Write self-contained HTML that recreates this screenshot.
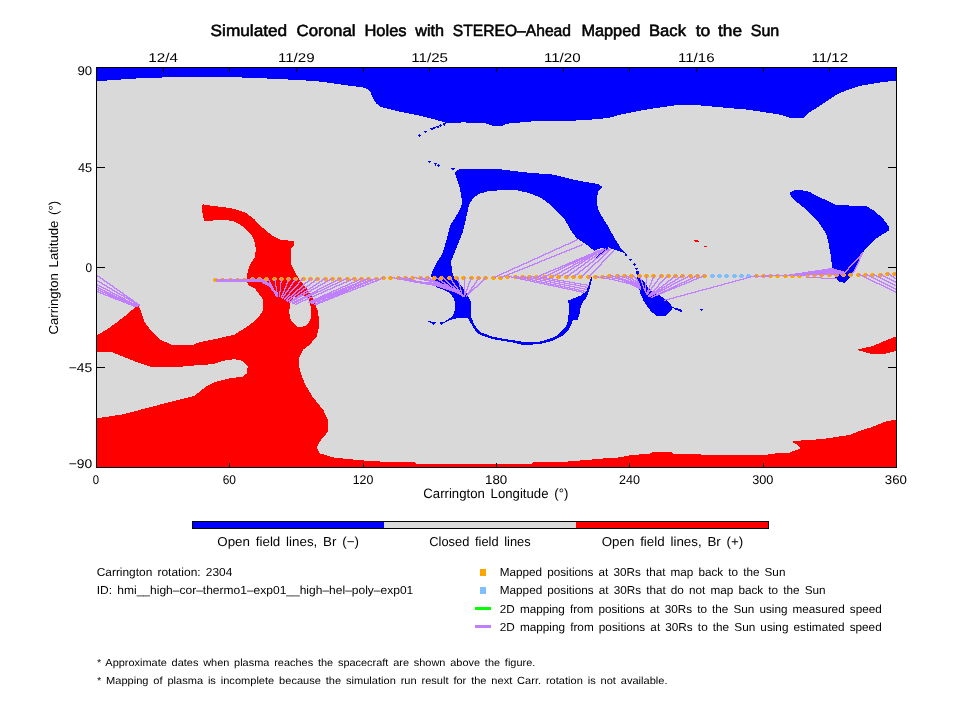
<!DOCTYPE html>
<html><head><meta charset="utf-8"><title>Simulated Coronal Holes</title>
<style>html,body{margin:0;padding:0;background:#fff}svg text{text-rendering:geometricPrecision}body{width:960px;height:720px;overflow:hidden}svg{display:block;will-change:transform}text{font-family:"Liberation Sans",sans-serif;fill:#000;word-spacing:0.16em}</style>
</head><body>
<svg width="960" height="720" viewBox="0 0 960 720">
<rect x="0" y="0" width="960" height="720" fill="#fff"/>
<defs><clipPath id="c"><rect x="97" y="68" width="799" height="399"/></clipPath></defs>
<g shape-rendering="crispEdges">
<rect x="96" y="67" width="801" height="401" fill="#d9d9d9"/>
<g clip-path="url(#c)">
<polygon fill="#0000ff" points="96.0,81.3 100.0,81.0 113.0,80.0 128.0,79.0 144.0,78.0 170.0,77.3 196.0,76.8 221.0,76.8 245.0,77.6 267.0,78.5 296.0,79.9 316.8,81.2 337.7,84.0 364.8,87.8 370.0,91.0 373.0,98.3 376.2,103.5 381.4,107.2 396.0,110.8 416.8,115.0 433.5,119.0 446.0,122.8 448.0,123.2 462.7,122.4 484.0,123.2 488.0,124.0 493.5,126.2 502.5,126.2 505.0,124.4 510.0,123.2 520.0,122.5 532.5,121.4 560.0,121.2 585.6,120.1 608.5,118.0 621.0,114.5 641.8,110.3 662.7,107.0 677.3,105.1 696.0,105.1 712.7,106.6 748.0,109.7 779.3,114.5 789.8,117.6 804.3,117.6 809.5,112.4 821.0,105.1 837.7,94.0 850.2,88.9 862.7,85.3 883.5,82.0 896.0,80.5 896.0,67.0 96.0,67.0"/>
<polygon fill="#0000ff" points="455.0,173.0 457.0,170.5 461.0,168.9 501.6,169.5 523.0,172.2 554.3,174.7 575.2,180.1 598.0,184.0 602.3,186.8 598.0,192.0 596.6,200.3 598.0,208.7 600.5,214.2 607.3,225.0 614.0,237.2 620.8,248.0 626.6,254.4 621.4,251.8 613.0,249.2 607.9,247.1 600.6,248.1 594.3,250.8 585.0,243.5 576.6,238.2 572.0,232.0 569.4,227.7 563.9,218.2 558.5,212.8 550.2,204.5 541.8,198.3 529.3,193.0 516.8,190.3 498.9,190.3 487.7,191.4 479.3,193.7 473.0,198.3 469.0,204.5 466.8,215.0 465.9,219.6 462.4,233.1 456.9,246.7 451.5,260.2 451.0,262.0 452.7,274.5 459.3,283.7 464.3,289.5 467.7,295.3 470.5,301.2 471.0,310.0 471.3,317.1 474.5,325.2 480.0,332.0 491.7,336.4 501.9,338.5 513.5,340.3 522.3,341.8 538.3,341.8 545.6,340.0 555.8,336.4 561.7,331.2 566.0,326.9 568.2,319.6 569.0,307.9 568.2,300.6 573.3,298.4 580.6,295.5 586.5,291.1 588.6,284.6 590.5,278.9 592.3,274.7 592.3,277.8 591.6,280.2 589.4,289.0 587.2,296.2 582.1,303.5 580.6,307.9 579.2,315.2 577.7,319.6 572.6,320.3 571.1,325.4 567.5,331.2 561.7,336.4 552.9,340.7 539.1,344.4 522.3,344.7 513.5,342.6 501.9,340.7 491.7,338.8 480.0,334.9 475.5,331.0 470.5,322.5 467.8,318.4 456.9,318.4 450.2,319.8 444.7,322.5 440.7,324.4 447.5,319.8 452.9,315.7 455.2,308.7 454.3,298.7 449.3,292.8 442.7,289.5 436.0,287.0 432.7,281.2 431.0,275.3 432.7,270.3 436.8,262.0 442.0,254.8 446.1,241.3 450.2,225.0 458.3,212.8 462.4,203.3 459.6,187.1"/>
<polygon fill="#0000ff" points="636.7,273.7 641.4,278.4 644.5,282.0 647.7,287.2 650.8,290.4 656.0,293.0 662.2,297.1 668.5,301.8 672.7,307.0 678.9,309.6 681.5,311.2 672.7,308.1 669.5,312.2 665.4,315.9 657.0,315.9 651.8,312.2 647.7,307.0 643.5,300.8 640.4,293.5 638.8,287.2 637.2,279.0"/>
<polygon fill="#0000ff" points="606.0,246.8 608.6,248.0 597.2,259.6 595.0,258.4"/>
<polygon fill="#0000ff" points="790.2,192.5 793.5,190.5 801.0,190.0 809.3,191.7 816.0,195.8 826.0,200.0 836.8,205.3 866.0,205.8 874.3,210.8 882.7,218.3 888.5,225.8 888.5,230.8 882.7,234.2 874.3,240.0 867.7,246.7 862.7,252.5 857.7,262.5 852.7,272.5 849.3,278.3 844.3,282.9 839.3,281.7 835.2,277.5 832.2,268.3 831.0,256.7 828.5,243.3 826.0,233.3 819.3,223.3 812.7,215.8 802.7,206.7 794.3,200.0 790.2,195.0"/>
<polygon fill="#ff0000" points="203.9,203.8 204.8,205.0 213.3,205.9 225.0,207.4 233.8,208.9 245.4,212.5 254.2,219.1 260.0,225.6 271.7,235.1 280.4,239.5 293.7,241.2 293.8,246.0 291.4,248.2 291.4,265.0 295.0,272.3 299.4,279.6 306.7,288.3 312.7,298.3 318.1,311.9 319.5,325.4 316.7,336.3 310.0,344.4 303.2,349.5 298.6,359.0 299.7,369.8 304.6,383.3 312.7,396.9 323.5,410.4 328.4,421.3 327.6,432.1 320.8,440.2 316.7,447.0 319.5,453.2 331.6,457.0 336.0,457.8 361.0,460.3 381.3,461.6 414.0,461.9 416.6,464.0 531.3,464.0 533.5,461.9 567.3,461.6 586.0,460.0 611.0,457.8 616.0,457.8 633.5,454.8 649.5,454.0 652.5,451.9 671.4,451.9 673.5,453.7 700.6,454.0 702.0,454.8 767.7,454.8 769.1,453.7 788.1,453.1 795.4,450.2 799.7,449.0 799.7,446.7 796.8,444.6 793.0,442.3 793.0,440.8 808.5,440.2 826.0,438.5 849.3,435.0 858.1,431.5 872.7,426.8 887.2,421.0 896.0,419.8 896.0,467.0 96.0,467.0 96.0,418.5 122.7,414.4 146.0,408.3 171.0,401.7 194.3,395.8 206.0,386.7 216.0,381.7 229.3,378.3 242.7,376.7 246.8,373.3 247.7,366.7 242.7,360.8 234.3,359.2 222.7,360.8 212.7,364.2 189.3,365.8 174.3,367.5 151.0,367.0 137.7,362.5 121.0,355.8 112.7,352.5 96.0,352.2 96.0,335.8 106.0,330.0 117.7,321.7 129.3,312.5 136.8,305.6 138.5,305.3 141.0,311.7 144.3,321.7 151.0,330.8 159.3,339.2 171.0,344.5 193.5,344.6 199.3,342.2 212.7,339.7 234.3,334.7 246.0,327.5 256.0,320.0 259.3,316.0 263.1,310.2 262.9,299.3 259.3,294.3 254.3,287.9 249.3,286.0 246.8,281.8 246.9,276.7 248.3,269.4 251.2,262.1 254.9,257.7 255.9,249.0 254.2,240.2 251.2,234.4 245.4,228.5 239.6,224.2 233.8,221.2 225.0,219.8 213.3,220.5 203.9,221.0 203.3,217.0 202.4,212.0 202.0,206.0 202.8,204.6"/>
<polygon fill="#d9d9d9" points="295.0,297.0 300.0,295.5 305.0,296.0 308.0,298.5 309.8,302.0 310.8,308.0 310.8,318.0 309.0,322.5 306.0,325.5 302.0,327.0 297.5,326.5 293.0,323.0 290.0,318.0 289.3,312.0 289.8,305.0 290.5,302.0 292.0,299.3"/>
<polygon fill="#ff0000" points="856.6,349.8 872.7,346.0 884.3,341.1 896.0,336.4 896.0,351.0 884.3,353.9 871.2,353.9"/>
<rect x="418" y="135" width="3" height="1" fill="#0000ff"/>
<rect x="419" y="134" width="1" height="3" fill="#0000ff"/>
<rect x="424" y="131" width="3" height="1" fill="#0000ff"/>
<rect x="425" y="132" width="1" height="1" fill="#0000ff"/>
<rect x="430" y="128" width="4" height="1" fill="#0000ff"/>
<rect x="431" y="129" width="2" height="1" fill="#0000ff"/>
<rect x="433" y="127" width="3" height="1" fill="#0000ff"/>
<rect x="434" y="128" width="1" height="1" fill="#0000ff"/>
<rect x="436" y="126" width="3" height="1" fill="#0000ff"/>
<rect x="437" y="127" width="2" height="1" fill="#0000ff"/>
<rect x="439" y="125" width="3" height="1" fill="#0000ff"/>
<rect x="440" y="124" width="1" height="3" fill="#0000ff"/>
<rect x="443" y="123" width="3" height="1" fill="#0000ff"/>
<rect x="443" y="124" width="2" height="1" fill="#0000ff"/>
<rect x="444" y="125" width="1" height="1" fill="#0000ff"/>
<rect x="428" y="161" width="3" height="1" fill="#0000ff"/>
<rect x="429" y="162" width="1" height="1" fill="#0000ff"/>
<rect x="434" y="163" width="3" height="1" fill="#0000ff"/>
<rect x="435" y="164" width="1" height="2" fill="#0000ff"/>
<rect x="437" y="165" width="3" height="1" fill="#0000ff"/>
<rect x="438" y="164" width="1" height="3" fill="#0000ff"/>
<rect x="451" y="168" width="4" height="1" fill="#0000ff"/>
<rect x="452" y="169" width="2" height="1" fill="#0000ff"/>
<rect x="428" y="321" width="3" height="1" fill="#0000ff"/>
<rect x="430" y="322" width="1" height="1" fill="#0000ff"/>
<rect x="431" y="322" width="5" height="1" fill="#0000ff"/>
<rect x="432" y="323" width="3" height="1" fill="#0000ff"/>
<rect x="433" y="324" width="1" height="1" fill="#0000ff"/>
<rect x="440" y="322" width="5" height="1" fill="#0000ff"/>
<rect x="440" y="323" width="3" height="1" fill="#0000ff"/>
<rect x="441" y="324" width="1" height="1" fill="#0000ff"/>
<rect x="629" y="259" width="3" height="1" fill="#0000ff"/>
<rect x="630" y="260" width="1" height="1" fill="#0000ff"/>
<rect x="634" y="263" width="1" height="1" fill="#0000ff"/>
<rect x="633" y="264" width="3" height="1" fill="#0000ff"/>
<rect x="634" y="265" width="1" height="1" fill="#0000ff"/>
<rect x="635" y="268" width="3" height="1" fill="#0000ff"/>
<rect x="636" y="269" width="1" height="1" fill="#0000ff"/>
<rect x="636" y="271" width="3" height="3" fill="#0000ff"/>
<rect x="625" y="254" width="2" height="2" fill="#0000ff"/>
<rect x="700" y="309" width="3" height="1" fill="#0000ff"/>
<rect x="701" y="310" width="1" height="1" fill="#0000ff"/>
<rect x="675" y="308" width="3" height="2" fill="#0000ff"/>
<rect x="678" y="309" width="3" height="2" fill="#0000ff"/>
<rect x="680" y="310" width="2" height="2" fill="#0000ff"/>
<rect x="694" y="240" width="4" height="1" fill="#ff0000"/>
<rect x="695" y="241" width="4" height="1" fill="#ff0000"/>
<rect x="704" y="246" width="3" height="1" fill="#ff0000"/>
</g>
<g clip-path="url(#c)">
<path fill="#ffa500" d="M214 278h3v1h1v2h-1v1h-3v-1h-1v-2h1z"/>
<path fill="#ffa500" d="M221 278h3v1h1v2h-1v1h-3v-1h-1v-2h1z"/>
<path fill="#ffa500" d="M229 278h3v1h1v2h-1v1h-3v-1h-1v-2h1z"/>
<path fill="#ffa500" d="M236 278h3v1h1v2h-1v1h-3v-1h-1v-2h1z"/>
<path fill="#ffa500" d="M243 278h3v1h1v2h-1v1h-3v-1h-1v-2h1z"/>
<path fill="#ffa500" d="M251 277h3v1h1v2h-1v1h-3v-1h-1v-2h1z"/>
<path fill="#ffa500" d="M258 277h3v1h1v2h-1v1h-3v-1h-1v-2h1z"/>
<path fill="#ffa500" d="M265 277h3v1h1v2h-1v1h-3v-1h-1v-2h1z"/>
<path fill="#ffa500" d="M273 277h3v1h1v2h-1v1h-3v-1h-1v-2h1z"/>
<path fill="#ffa500" d="M280 277h3v1h1v2h-1v1h-3v-1h-1v-2h1z"/>
<path fill="#ffa500" d="M287 277h3v1h1v2h-1v1h-3v-1h-1v-2h1z"/>
<path fill="#ffa500" d="M294 277h3v1h1v2h-1v1h-3v-1h-1v-2h1z"/>
<path fill="#ffa500" d="M302 277h3v1h1v2h-1v1h-3v-1h-1v-2h1z"/>
<path fill="#ffa500" d="M309 277h3v1h1v2h-1v1h-3v-1h-1v-2h1z"/>
<path fill="#ffa500" d="M316 277h3v1h1v2h-1v1h-3v-1h-1v-2h1z"/>
<path fill="#ffa500" d="M324 277h3v1h1v2h-1v1h-3v-1h-1v-2h1z"/>
<path fill="#ffa500" d="M331 277h3v1h1v2h-1v1h-3v-1h-1v-2h1z"/>
<path fill="#ffa500" d="M338 277h3v1h1v2h-1v1h-3v-1h-1v-2h1z"/>
<path fill="#ffa500" d="M346 277h3v1h1v2h-1v1h-3v-1h-1v-2h1z"/>
<path fill="#ffa500" d="M353 277h3v1h1v2h-1v1h-3v-1h-1v-2h1z"/>
<path fill="#ffa500" d="M360 277h3v1h1v2h-1v1h-3v-1h-1v-2h1z"/>
<path fill="#ffa500" d="M367 277h3v1h1v2h-1v1h-3v-1h-1v-2h1z"/>
<path fill="#ffa500" d="M375 277h3v1h1v2h-1v1h-3v-1h-1v-2h1z"/>
<path fill="#ffa500" d="M382 276h3v1h1v2h-1v1h-3v-1h-1v-2h1z"/>
<path fill="#ffa500" d="M389 276h3v1h1v2h-1v1h-3v-1h-1v-2h1z"/>
<path fill="#ffa500" d="M397 276h3v1h1v2h-1v1h-3v-1h-1v-2h1z"/>
<path fill="#ffa500" d="M404 276h3v1h1v2h-1v1h-3v-1h-1v-2h1z"/>
<path fill="#ffa500" d="M411 276h3v1h1v2h-1v1h-3v-1h-1v-2h1z"/>
<path fill="#ffa500" d="M419 276h3v1h1v2h-1v1h-3v-1h-1v-2h1z"/>
<path fill="#ffa500" d="M426 276h3v1h1v2h-1v1h-3v-1h-1v-2h1z"/>
<path fill="#ffa500" d="M433 276h3v1h1v2h-1v1h-3v-1h-1v-2h1z"/>
<path fill="#ffa500" d="M440 276h3v1h1v2h-1v1h-3v-1h-1v-2h1z"/>
<path fill="#ffa500" d="M448 276h3v1h1v2h-1v1h-3v-1h-1v-2h1z"/>
<path fill="#ffa500" d="M455 276h3v1h1v2h-1v1h-3v-1h-1v-2h1z"/>
<path fill="#ffa500" d="M462 276h3v1h1v2h-1v1h-3v-1h-1v-2h1z"/>
<path fill="#ffa500" d="M470 276h3v1h1v2h-1v1h-3v-1h-1v-2h1z"/>
<path fill="#ffa500" d="M477 276h3v1h1v2h-1v1h-3v-1h-1v-2h1z"/>
<path fill="#ffa500" d="M484 276h3v1h1v2h-1v1h-3v-1h-1v-2h1z"/>
<path fill="#ffa500" d="M492 276h3v1h1v2h-1v1h-3v-1h-1v-2h1z"/>
<path fill="#ffa500" d="M499 276h3v1h1v2h-1v1h-3v-1h-1v-2h1z"/>
<path fill="#ffa500" d="M506 275h3v1h1v2h-1v1h-3v-1h-1v-2h1z"/>
<path fill="#ffa500" d="M514 275h3v1h1v2h-1v1h-3v-1h-1v-2h1z"/>
<path fill="#ffa500" d="M521 275h3v1h1v2h-1v1h-3v-1h-1v-2h1z"/>
<path fill="#ffa500" d="M528 275h3v1h1v2h-1v1h-3v-1h-1v-2h1z"/>
<path fill="#ffa500" d="M535 275h3v1h1v2h-1v1h-3v-1h-1v-2h1z"/>
<path fill="#ffa500" d="M543 275h3v1h1v2h-1v1h-3v-1h-1v-2h1z"/>
<path fill="#ffa500" d="M550 275h3v1h1v2h-1v1h-3v-1h-1v-2h1z"/>
<path fill="#ffa500" d="M557 275h3v1h1v2h-1v1h-3v-1h-1v-2h1z"/>
<path fill="#ffa500" d="M565 275h3v1h1v2h-1v1h-3v-1h-1v-2h1z"/>
<path fill="#ffa500" d="M572 275h3v1h1v2h-1v1h-3v-1h-1v-2h1z"/>
<path fill="#ffa500" d="M579 275h3v1h1v2h-1v1h-3v-1h-1v-2h1z"/>
<path fill="#ffa500" d="M587 275h3v1h1v2h-1v1h-3v-1h-1v-2h1z"/>
<path fill="#ffa500" d="M594 275h3v1h1v2h-1v1h-3v-1h-1v-2h1z"/>
<path fill="#ffa500" d="M601 275h3v1h1v2h-1v1h-3v-1h-1v-2h1z"/>
<path fill="#ffa500" d="M608 274h3v1h1v2h-1v1h-3v-1h-1v-2h1z"/>
<path fill="#ffa500" d="M616 274h3v1h1v2h-1v1h-3v-1h-1v-2h1z"/>
<path fill="#ffa500" d="M623 274h3v1h1v2h-1v1h-3v-1h-1v-2h1z"/>
<path fill="#ffa500" d="M630 274h3v1h1v2h-1v1h-3v-1h-1v-2h1z"/>
<path fill="#ffa500" d="M638 274h3v1h1v2h-1v1h-3v-1h-1v-2h1z"/>
<path fill="#ffa500" d="M645 274h3v1h1v2h-1v1h-3v-1h-1v-2h1z"/>
<path fill="#ffa500" d="M652 274h3v1h1v2h-1v1h-3v-1h-1v-2h1z"/>
<path fill="#ffa500" d="M660 274h3v1h1v2h-1v1h-3v-1h-1v-2h1z"/>
<path fill="#ffa500" d="M667 274h3v1h1v2h-1v1h-3v-1h-1v-2h1z"/>
<path fill="#ffa500" d="M674 274h3v1h1v2h-1v1h-3v-1h-1v-2h1z"/>
<path fill="#ffa500" d="M681 274h3v1h1v2h-1v1h-3v-1h-1v-2h1z"/>
<path fill="#ffa500" d="M689 274h3v1h1v2h-1v1h-3v-1h-1v-2h1z"/>
<path fill="#ffa500" d="M696 274h3v1h1v2h-1v1h-3v-1h-1v-2h1z"/>
<path fill="#ffa500" d="M703 274h3v1h1v2h-1v1h-3v-1h-1v-2h1z"/>
<path fill="#7fbfff" d="M711 274h3v1h1v2h-1v1h-3v-1h-1v-2h1z"/>
<path fill="#7fbfff" d="M718 274h3v1h1v2h-1v1h-3v-1h-1v-2h1z"/>
<path fill="#7fbfff" d="M725 274h3v1h1v2h-1v1h-3v-1h-1v-2h1z"/>
<path fill="#7fbfff" d="M733 274h3v1h1v2h-1v1h-3v-1h-1v-2h1z"/>
<path fill="#7fbfff" d="M740 274h3v1h1v2h-1v1h-3v-1h-1v-2h1z"/>
<path fill="#7fbfff" d="M747 274h3v1h1v2h-1v1h-3v-1h-1v-2h1z"/>
<path fill="#ffa500" d="M755 274h3v1h1v2h-1v1h-3v-1h-1v-2h1z"/>
<path fill="#ffa500" d="M762 274h3v1h1v2h-1v1h-3v-1h-1v-2h1z"/>
<path fill="#ffa500" d="M769 274h3v1h1v2h-1v1h-3v-1h-1v-2h1z"/>
<path fill="#ffa500" d="M776 274h3v1h1v2h-1v1h-3v-1h-1v-2h1z"/>
<path fill="#ffa500" d="M784 274h3v1h1v2h-1v1h-3v-1h-1v-2h1z"/>
<path fill="#ffa500" d="M791 274h3v1h1v2h-1v1h-3v-1h-1v-2h1z"/>
<path fill="#ffa500" d="M798 274h3v1h1v2h-1v1h-3v-1h-1v-2h1z"/>
<path fill="#ffa500" d="M806 273h3v1h1v2h-1v1h-3v-1h-1v-2h1z"/>
<path fill="#ffa500" d="M813 273h3v1h1v2h-1v1h-3v-1h-1v-2h1z"/>
<path fill="#ffa500" d="M820 273h3v1h1v2h-1v1h-3v-1h-1v-2h1z"/>
<path fill="#ffa500" d="M828 273h3v1h1v2h-1v1h-3v-1h-1v-2h1z"/>
<path fill="#ffa500" d="M835 273h3v1h1v2h-1v1h-3v-1h-1v-2h1z"/>
<path fill="#ffa500" d="M842 273h3v1h1v2h-1v1h-3v-1h-1v-2h1z"/>
<path fill="#ffa500" d="M849 273h3v1h1v2h-1v1h-3v-1h-1v-2h1z"/>
<path fill="#ffa500" d="M857 273h3v1h1v2h-1v1h-3v-1h-1v-2h1z"/>
<path fill="#ffa500" d="M864 273h3v1h1v2h-1v1h-3v-1h-1v-2h1z"/>
<path fill="#ffa500" d="M871 273h3v1h1v2h-1v1h-3v-1h-1v-2h1z"/>
<path fill="#ffa500" d="M879 273h3v1h1v2h-1v1h-3v-1h-1v-2h1z"/>
<path fill="#ffa500" d="M886 272h3v1h1v2h-1v1h-3v-1h-1v-2h1z"/>
<path fill="#ffa500" d="M893 272h3v1h1v2h-1v1h-3v-1h-1v-2h1z"/>
</g>
<path fill="#bf7fff" d="M576 239h2v1h-2zM574 240h3v1h-3zM572 241h3v1h-3zM570 242h3v1h-3zM568 243h3v1h-3zM565 244h4v1h-4zM581 244h2v1h-2zM563 245h3v1h-3zM579 245h3v1h-3zM561 246h3v1h-3zM576 246h4v1h-4zM559 247h3v1h-3zM574 247h3v1h-3zM556 248h4v1h-4zM571 248h4v1h-4zM603 248h1v1h-1zM605 248h1v1h-1zM608 248h1v1h-1zM610 248h1v1h-1zM554 249h3v1h-3zM569 249h3v1h-3zM601 249h5v1h-5zM607 249h4v1h-4zM552 250h3v1h-3zM566 250h4v1h-4zM597 250h7v1h-7zM605 250h5v1h-5zM613 250h1v1h-1zM550 251h3v1h-3zM564 251h3v1h-3zM595 251h8v1h-8zM604 251h2v1h-2zM607 251h2v1h-2zM612 251h2v1h-2zM548 252h3v1h-3zM561 252h4v1h-4zM593 252h9v1h-9zM603 252h2v1h-2zM606 252h2v1h-2zM611 252h2v1h-2zM862 252h1v1h-1zM545 253h4v1h-4zM559 253h3v1h-3zM591 253h6v1h-6zM598 253h2v1h-2zM602 253h2v1h-2zM605 253h2v1h-2zM610 253h2v1h-2zM861 253h2v1h-2zM543 254h3v1h-3zM556 254h4v1h-4zM588 254h11v1h-11zM600 254h3v1h-3zM604 254h2v1h-2zM609 254h2v1h-2zM860 254h3v1h-3zM541 255h3v1h-3zM554 255h3v1h-3zM586 255h8v1h-8zM595 255h2v1h-2zM599 255h2v1h-2zM603 255h2v1h-2zM608 255h2v1h-2zM860 255h2v1h-2zM539 256h3v1h-3zM551 256h4v1h-4zM584 256h9v1h-9zM594 256h2v1h-2zM598 256h2v1h-2zM602 256h2v1h-2zM607 256h2v1h-2zM859 256h3v1h-3zM537 257h3v1h-3zM549 257h3v1h-3zM581 257h10v1h-10zM592 257h3v1h-3zM597 257h2v1h-2zM601 257h2v1h-2zM606 257h2v1h-2zM858 257h3v1h-3zM534 258h4v1h-4zM546 258h4v1h-4zM579 258h11v1h-11zM591 258h2v1h-2zM595 258h3v1h-3zM600 258h2v1h-2zM605 258h2v1h-2zM857 258h4v1h-4zM532 259h3v1h-3zM544 259h3v1h-3zM576 259h12v1h-12zM589 259h3v1h-3zM594 259h2v1h-2zM599 259h2v1h-2zM604 259h2v1h-2zM856 259h2v1h-2zM859 259h1v1h-1zM530 260h3v1h-3zM541 260h4v1h-4zM574 260h6v1h-6zM581 260h2v1h-2zM584 260h2v1h-2zM588 260h2v1h-2zM593 260h2v1h-2zM598 260h2v1h-2zM603 260h2v1h-2zM855 260h2v1h-2zM859 260h1v1h-1zM528 261h3v1h-3zM539 261h3v1h-3zM572 261h6v1h-6zM579 261h6v1h-6zM587 261h2v1h-2zM592 261h2v1h-2zM597 261h2v1h-2zM602 261h2v1h-2zM854 261h2v1h-2zM858 261h2v1h-2zM526 262h3v1h-3zM537 262h3v1h-3zM569 262h7v1h-7zM577 262h3v1h-3zM581 262h2v1h-2zM585 262h3v1h-3zM590 262h3v1h-3zM595 262h3v1h-3zM601 262h2v1h-2zM853 262h2v1h-2zM858 262h1v1h-1zM523 263h4v1h-4zM534 263h4v1h-4zM567 263h7v1h-7zM575 263h3v1h-3zM579 263h3v1h-3zM584 263h2v1h-2zM589 263h2v1h-2zM594 263h2v1h-2zM601 263h1v1h-1zM852 263h2v1h-2zM857 263h2v1h-2zM521 264h3v1h-3zM532 264h3v1h-3zM565 264h6v1h-6zM573 264h3v1h-3zM578 264h2v1h-2zM583 264h2v1h-2zM588 264h2v1h-2zM593 264h2v1h-2zM600 264h2v1h-2zM851 264h2v1h-2zM857 264h1v1h-1zM519 265h3v1h-3zM529 265h4v1h-4zM562 265h7v1h-7zM572 265h2v1h-2zM576 265h3v1h-3zM581 265h3v1h-3zM587 265h2v1h-2zM592 265h2v1h-2zM599 265h2v1h-2zM850 265h2v1h-2zM856 265h2v1h-2zM517 266h3v1h-3zM527 266h3v1h-3zM560 266h3v1h-3zM564 266h3v1h-3zM570 266h3v1h-3zM574 266h3v1h-3zM580 266h2v1h-2zM585 266h3v1h-3zM591 266h2v1h-2zM598 266h2v1h-2zM849 266h2v1h-2zM856 266h1v1h-1zM514 267h4v1h-4zM524 267h4v1h-4zM558 267h3v1h-3zM562 267h3v1h-3zM568 267h3v1h-3zM573 267h2v1h-2zM578 267h3v1h-3zM584 267h2v1h-2zM590 267h2v1h-2zM597 267h2v1h-2zM848 267h2v1h-2zM855 267h2v1h-2zM512 268h3v1h-3zM522 268h3v1h-3zM555 268h4v1h-4zM560 268h3v1h-3zM566 268h3v1h-3zM571 268h3v1h-3zM577 268h2v1h-2zM583 268h2v1h-2zM589 268h2v1h-2zM596 268h2v1h-2zM828 268h6v1h-6zM848 268h1v1h-1zM855 268h1v1h-1zM510 269h3v1h-3zM519 269h4v1h-4zM553 269h3v1h-3zM558 269h3v1h-3zM564 269h3v1h-3zM570 269h2v1h-2zM576 269h2v1h-2zM582 269h2v1h-2zM588 269h2v1h-2zM595 269h2v1h-2zM822 269h15v1h-15zM847 269h2v1h-2zM854 269h2v1h-2zM508 270h3v1h-3zM517 270h3v1h-3zM550 270h4v1h-4zM556 270h3v1h-3zM562 270h3v1h-3zM568 270h3v1h-3zM574 270h3v1h-3zM580 270h3v1h-3zM587 270h2v1h-2zM594 270h2v1h-2zM815 270h26v1h-26zM846 270h2v1h-2zM854 270h1v1h-1zM506 271h3v1h-3zM514 271h4v1h-4zM548 271h3v1h-3zM554 271h3v1h-3zM561 271h2v1h-2zM567 271h2v1h-2zM573 271h2v1h-2zM579 271h2v1h-2zM586 271h2v1h-2zM593 271h2v1h-2zM808 271h36v1h-36zM845 271h2v1h-2zM853 271h2v1h-2zM503 272h4v1h-4zM512 272h3v1h-3zM546 272h3v1h-3zM552 272h3v1h-3zM559 272h3v1h-3zM565 272h3v1h-3zM571 272h3v1h-3zM578 272h2v1h-2zM585 272h2v1h-2zM592 272h2v1h-2zM802 272h44v1h-44zM852 272h2v1h-2zM501 273h3v1h-3zM509 273h4v1h-4zM543 273h4v1h-4zM550 273h3v1h-3zM557 273h3v1h-3zM563 273h3v1h-3zM570 273h2v1h-2zM577 273h2v1h-2zM584 273h2v1h-2zM591 273h2v1h-2zM795 273h49v1h-49zM852 273h1v1h-1zM887 273h2v1h-2zM895 273h1v1h-1zM499 274h3v1h-3zM507 274h3v1h-3zM541 274h3v1h-3zM548 274h3v1h-3zM555 274h3v1h-3zM562 274h2v1h-2zM569 274h2v1h-2zM575 274h3v1h-3zM583 274h2v1h-2zM590 274h2v1h-2zM789 274h32v1h-32zM822 274h5v1h-5zM829 274h6v1h-6zM836 274h3v1h-3zM840 274h5v1h-5zM851 274h2v1h-2zM858 274h3v1h-3zM866 274h2v1h-2zM873 274h2v1h-2zM880 274h2v1h-2zM888 274h3v1h-3zM895 274h1v1h-1zM97 275h1v1h-1zM497 275h3v1h-3zM504 275h4v1h-4zM539 275h3v1h-3zM546 275h3v1h-3zM553 275h3v1h-3zM560 275h3v1h-3zM567 275h3v1h-3zM574 275h2v1h-2zM582 275h2v1h-2zM589 275h2v1h-2zM610 275h3v1h-3zM617 275h3v1h-3zM625 275h2v1h-2zM632 275h2v1h-2zM639 275h1v1h-1zM646 275h1v1h-1zM654 275h1v1h-1zM660 275h2v1h-2zM667 275h2v1h-2zM675 275h2v1h-2zM682 275h2v1h-2zM689 275h2v1h-2zM696 275h3v1h-3zM703 275h3v1h-3zM754 275h3v1h-3zM763 275h28v1h-28zM793 275h6v1h-6zM800 275h6v1h-6zM860 275h3v1h-3zM867 275h3v1h-3zM874 275h3v1h-3zM881 275h3v1h-3zM890 275h2v1h-2zM97 276h3v1h-3zM495 276h3v1h-3zM502 276h3v1h-3zM508 276h4v1h-4zM515 276h4v1h-4zM522 276h4v1h-4zM530 276h4v1h-4zM537 276h4v1h-4zM544 276h3v1h-3zM552 276h2v1h-2zM559 276h2v1h-2zM566 276h2v1h-2zM573 276h2v1h-2zM581 276h2v1h-2zM588 276h2v1h-2zM595 276h4v1h-4zM603 276h4v1h-4zM612 276h4v1h-4zM619 276h4v1h-4zM626 276h3v1h-3zM633 276h2v1h-2zM639 276h2v1h-2zM646 276h1v1h-1zM653 276h2v1h-2zM660 276h1v1h-1zM666 276h2v1h-2zM674 276h2v1h-2zM680 276h3v1h-3zM687 276h3v1h-3zM694 276h3v1h-3zM701 276h3v1h-3zM750 276h20v1h-20zM862 276h3v1h-3zM869 276h3v1h-3zM876 276h3v1h-3zM883 276h3v1h-3zM891 276h3v1h-3zM99 277h2v1h-2zM382 277h3v1h-3zM391 277h4v1h-4zM398 277h4v1h-4zM405 277h3v1h-3zM413 277h4v1h-4zM420 277h3v1h-3zM427 277h2v1h-2zM435 277h2v1h-2zM442 277h2v1h-2zM449 277h2v1h-2zM457 277h1v1h-1zM464 277h1v1h-1zM471 277h1v1h-1zM478 277h2v1h-2zM485 277h2v1h-2zM493 277h3v1h-3zM500 277h3v1h-3zM511 277h6v1h-6zM518 277h5v1h-5zM525 277h6v1h-6zM533 277h6v1h-6zM540 277h7v1h-7zM598 277h6v1h-6zM606 277h7v1h-7zM615 277h5v1h-5zM622 277h5v1h-5zM628 277h3v1h-3zM634 277h2v1h-2zM640 277h1v1h-1zM646 277h1v1h-1zM653 277h1v1h-1zM659 277h2v1h-2zM665 277h2v1h-2zM672 277h3v1h-3zM678 277h3v1h-3zM685 277h3v1h-3zM692 277h3v1h-3zM698 277h4v1h-4zM746 277h5v1h-5zM806 277h16v1h-16zM864 277h3v1h-3zM871 277h3v1h-3zM878 277h3v1h-3zM885 277h3v1h-3zM893 277h2v1h-2zM100 278h3v1h-3zM252 278h2v1h-2zM259 278h2v1h-2zM267 278h2v1h-2zM274 278h1v1h-1zM281 278h1v1h-1zM289 278h1v1h-1zM295 278h2v1h-2zM302 278h2v1h-2zM310 278h2v1h-2zM317 278h2v1h-2zM324 278h2v1h-2zM331 278h2v1h-2zM339 278h2v1h-2zM345 278h3v1h-3zM352 278h3v1h-3zM360 278h3v1h-3zM367 278h3v1h-3zM374 278h3v1h-3zM380 278h3v1h-3zM394 278h6v1h-6zM401 278h5v1h-5zM407 278h4v1h-4zM416 278h5v1h-5zM422 278h4v1h-4zM428 278h3v1h-3zM436 278h3v1h-3zM443 278h2v1h-2zM450 278h1v1h-1zM457 278h2v1h-2zM464 278h1v1h-1zM470 278h2v1h-2zM478 278h1v1h-1zM484 278h2v1h-2zM516 278h5v1h-5zM522 278h6v1h-6zM530 278h6v1h-6zM538 278h6v1h-6zM546 278h7v1h-7zM603 278h7v1h-7zM612 278h11v1h-11zM626 278h3v1h-3zM630 278h3v1h-3zM635 278h2v1h-2zM640 278h1v1h-1zM646 278h1v1h-1zM652 278h2v1h-2zM658 278h2v1h-2zM664 278h2v1h-2zM671 278h2v1h-2zM677 278h2v1h-2zM683 278h3v1h-3zM690 278h3v1h-3zM696 278h3v1h-3zM743 278h4v1h-4zM821 278h16v1h-16zM866 278h3v1h-3zM873 278h3v1h-3zM880 278h3v1h-3zM887 278h3v1h-3zM894 278h2v1h-2zM102 279h2v1h-2zM216 279h48v1h-48zM268 279h1v1h-1zM274 279h1v1h-1zM281 279h1v1h-1zM288 279h2v1h-2zM295 279h1v1h-1zM301 279h2v1h-2zM309 279h2v1h-2zM315 279h3v1h-3zM322 279h3v1h-3zM329 279h3v1h-3zM337 279h3v1h-3zM343 279h3v1h-3zM350 279h3v1h-3zM358 279h3v1h-3zM364 279h4v1h-4zM370 279h5v1h-5zM377 279h4v1h-4zM399 279h14v1h-14zM420 279h9v1h-9zM430 279h3v1h-3zM438 279h2v1h-2zM444 279h2v1h-2zM450 279h2v1h-2zM458 279h1v1h-1zM464 279h1v1h-1zM470 279h1v1h-1zM477 279h2v1h-2zM483 279h2v1h-2zM520 279h6v1h-6zM527 279h6v1h-6zM535 279h6v1h-6zM543 279h7v1h-7zM552 279h6v1h-6zM609 279h6v1h-6zM618 279h8v1h-8zM628 279h3v1h-3zM632 279h2v1h-2zM636 279h2v1h-2zM640 279h2v1h-2zM646 279h1v1h-1zM652 279h1v1h-1zM657 279h2v1h-2zM663 279h2v1h-2zM670 279h2v1h-2zM675 279h3v1h-3zM681 279h3v1h-3zM688 279h3v1h-3zM693 279h4v1h-4zM739 279h5v1h-5zM868 279h3v1h-3zM875 279h3v1h-3zM882 279h3v1h-3zM889 279h3v1h-3zM97 280h1v1h-1zM103 280h2v1h-2zM216 280h49v1h-49zM268 280h2v1h-2zM274 280h2v1h-2zM281 280h1v1h-1zM288 280h1v1h-1zM294 280h2v1h-2zM300 280h2v1h-2zM308 280h2v1h-2zM314 280h2v1h-2zM321 280h2v1h-2zM327 280h3v1h-3zM335 280h3v1h-3zM341 280h3v1h-3zM348 280h3v1h-3zM356 280h3v1h-3zM362 280h4v1h-4zM368 280h5v1h-5zM375 280h4v1h-4zM404 280h12v1h-12zM424 280h11v1h-11zM439 280h3v1h-3zM445 280h2v1h-2zM451 280h2v1h-2zM458 280h1v1h-1zM464 280h1v1h-1zM470 280h1v1h-1zM476 280h2v1h-2zM482 280h2v1h-2zM525 280h6v1h-6zM532 280h5v1h-5zM540 280h6v1h-6zM549 280h6v1h-6zM557 280h7v1h-7zM614 280h5v1h-5zM622 280h7v1h-7zM630 280h2v1h-2zM633 280h3v1h-3zM637 280h1v1h-1zM641 280h1v1h-1zM646 280h1v1h-1zM651 280h2v1h-2zM657 280h1v1h-1zM662 280h2v1h-2zM668 280h3v1h-3zM674 280h2v1h-2zM679 280h3v1h-3zM686 280h3v1h-3zM691 280h3v1h-3zM735 280h5v1h-5zM870 280h3v1h-3zM877 280h3v1h-3zM884 280h3v1h-3zM891 280h3v1h-3zM97 281h3v1h-3zM104 281h3v1h-3zM216 281h51v1h-51zM269 281h1v1h-1zM275 281h1v1h-1zM281 281h1v1h-1zM287 281h2v1h-2zM293 281h2v1h-2zM299 281h2v1h-2zM307 281h2v1h-2zM313 281h2v1h-2zM319 281h3v1h-3zM325 281h3v1h-3zM333 281h3v1h-3zM339 281h3v1h-3zM346 281h3v1h-3zM354 281h3v1h-3zM359 281h5v1h-5zM365 281h6v1h-6zM372 281h5v1h-5zM409 281h13v1h-13zM429 281h9v1h-9zM441 281h2v1h-2zM446 281h2v1h-2zM452 281h1v1h-1zM458 281h1v1h-1zM464 281h1v1h-1zM469 281h2v1h-2zM476 281h1v1h-1zM481 281h2v1h-2zM530 281h5v1h-5zM536 281h6v1h-6zM545 281h6v1h-6zM554 281h6v1h-6zM563 281h7v1h-7zM618 281h5v1h-5zM624 281h10v1h-10zM635 281h4v1h-4zM641 281h1v1h-1zM646 281h1v1h-1zM651 281h1v1h-1zM656 281h2v1h-2zM661 281h2v1h-2zM667 281h2v1h-2zM672 281h3v1h-3zM677 281h3v1h-3zM684 281h3v1h-3zM689 281h3v1h-3zM732 281h4v1h-4zM872 281h3v1h-3zM879 281h3v1h-3zM886 281h3v1h-3zM893 281h3v1h-3zM99 282h3v1h-3zM106 282h2v1h-2zM262 282h6v1h-6zM269 282h2v1h-2zM275 282h1v1h-1zM280 282h2v1h-2zM287 282h1v1h-1zM292 282h2v1h-2zM298 282h2v1h-2zM305 282h3v1h-3zM311 282h3v1h-3zM318 282h2v1h-2zM324 282h2v1h-2zM331 282h3v1h-3zM337 282h3v1h-3zM343 282h4v1h-4zM351 282h4v1h-4zM357 282h4v1h-4zM363 282h5v1h-5zM370 282h4v1h-4zM414 282h18v1h-18zM433 282h7v1h-7zM442 282h3v1h-3zM447 282h2v1h-2zM452 282h2v1h-2zM458 282h2v1h-2zM464 282h1v1h-1zM469 282h1v1h-1zM475 282h2v1h-2zM480 282h2v1h-2zM534 282h6v1h-6zM541 282h6v1h-6zM550 282h5v1h-5zM559 282h6v1h-6zM569 282h6v1h-6zM622 282h17v1h-17zM641 282h2v1h-2zM646 282h1v1h-1zM651 282h1v1h-1zM655 282h2v1h-2zM660 282h2v1h-2zM666 282h2v1h-2zM670 282h3v1h-3zM675 282h3v1h-3zM681 282h4v1h-4zM686 282h4v1h-4zM728 282h5v1h-5zM874 282h3v1h-3zM881 282h3v1h-3zM888 282h3v1h-3zM895 282h1v1h-1zM101 283h2v1h-2zM107 283h3v1h-3zM263 283h8v1h-8zM275 283h1v1h-1zM280 283h1v1h-1zM286 283h2v1h-2zM292 283h1v1h-1zM298 283h1v1h-1zM304 283h2v1h-2zM310 283h2v1h-2zM316 283h3v1h-3zM322 283h3v1h-3zM329 283h3v1h-3zM335 283h3v1h-3zM341 283h3v1h-3zM349 283h3v1h-3zM355 283h4v1h-4zM360 283h6v1h-6zM367 283h4v1h-4zM420 283h22v1h-22zM444 283h2v1h-2zM448 283h2v1h-2zM453 283h2v1h-2zM459 283h1v1h-1zM464 283h1v1h-1zM468 283h2v1h-2zM474 283h2v1h-2zM479 283h2v1h-2zM539 283h6v1h-6zM546 283h5v1h-5zM554 283h6v1h-6zM564 283h6v1h-6zM574 283h7v1h-7zM626 283h14v1h-14zM642 283h1v1h-1zM645 283h2v1h-2zM650 283h2v1h-2zM654 283h2v1h-2zM659 283h2v1h-2zM665 283h2v1h-2zM669 283h2v1h-2zM673 283h3v1h-3zM679 283h3v1h-3zM684 283h3v1h-3zM724 283h5v1h-5zM876 283h4v1h-4zM883 283h3v1h-3zM890 283h3v1h-3zM97 284h1v1h-1zM102 284h3v1h-3zM109 284h2v1h-2zM265 284h7v1h-7zM275 284h1v1h-1zM280 284h1v1h-1zM286 284h1v1h-1zM291 284h2v1h-2zM297 284h2v1h-2zM303 284h2v1h-2zM309 284h2v1h-2zM315 284h2v1h-2zM320 284h3v1h-3zM327 284h3v1h-3zM332 284h4v1h-4zM339 284h3v1h-3zM347 284h3v1h-3zM352 284h5v1h-5zM358 284h5v1h-5zM365 284h4v1h-4zM426 284h22v1h-22zM449 284h2v1h-2zM454 284h1v1h-1zM459 284h1v1h-1zM464 284h1v1h-1zM468 284h1v1h-1zM474 284h1v1h-1zM478 284h2v1h-2zM544 284h5v1h-5zM550 284h6v1h-6zM559 284h6v1h-6zM569 284h7v1h-7zM580 284h7v1h-7zM630 284h10v1h-10zM642 284h1v1h-1zM645 284h1v1h-1zM650 284h1v1h-1zM654 284h1v1h-1zM658 284h2v1h-2zM663 284h3v1h-3zM667 284h3v1h-3zM671 284h3v1h-3zM677 284h3v1h-3zM681 284h4v1h-4zM721 284h4v1h-4zM879 284h3v1h-3zM885 284h3v1h-3zM892 284h3v1h-3zM97 285h3v1h-3zM104 285h3v1h-3zM110 285h3v1h-3zM267 285h5v1h-5zM275 285h1v1h-1zM280 285h1v1h-1zM286 285h1v1h-1zM290 285h2v1h-2zM296 285h2v1h-2zM302 285h2v1h-2zM307 285h3v1h-3zM313 285h3v1h-3zM318 285h3v1h-3zM325 285h3v1h-3zM330 285h3v1h-3zM336 285h4v1h-4zM345 285h3v1h-3zM350 285h4v1h-4zM355 285h6v1h-6zM362 285h4v1h-4zM432 285h17v1h-17zM450 285h2v1h-2zM454 285h2v1h-2zM459 285h1v1h-1zM464 285h1v1h-1zM468 285h1v1h-1zM473 285h2v1h-2zM477 285h2v1h-2zM548 285h6v1h-6zM555 285h6v1h-6zM564 285h6v1h-6zM575 285h6v1h-6zM586 285h3v1h-3zM632 285h8v1h-8zM642 285h2v1h-2zM645 285h1v1h-1zM649 285h2v1h-2zM653 285h2v1h-2zM658 285h1v1h-1zM662 285h2v1h-2zM666 285h2v1h-2zM670 285h2v1h-2zM675 285h3v1h-3zM679 285h3v1h-3zM717 285h5v1h-5zM881 285h3v1h-3zM887 285h3v1h-3zM894 285h2v1h-2zM99 286h3v1h-3zM106 286h2v1h-2zM112 286h2v1h-2zM269 286h4v1h-4zM275 286h2v1h-2zM280 286h1v1h-1zM285 286h2v1h-2zM290 286h1v1h-1zM295 286h2v1h-2zM301 286h2v1h-2zM306 286h2v1h-2zM312 286h2v1h-2zM317 286h2v1h-2zM323 286h3v1h-3zM328 286h3v1h-3zM334 286h3v1h-3zM342 286h4v1h-4zM347 286h5v1h-5zM353 286h6v1h-6zM360 286h4v1h-4zM437 286h13v1h-13zM451 286h3v1h-3zM455 286h2v1h-2zM459 286h2v1h-2zM464 286h1v1h-1zM467 286h2v1h-2zM472 286h2v1h-2zM476 286h2v1h-2zM553 286h6v1h-6zM560 286h5v1h-5zM569 286h6v1h-6zM580 286h6v1h-6zM634 286h7v1h-7zM643 286h1v1h-1zM645 286h1v1h-1zM649 286h1v1h-1zM652 286h2v1h-2zM657 286h2v1h-2zM661 286h2v1h-2zM664 286h3v1h-3zM668 286h3v1h-3zM673 286h7v1h-7zM713 286h5v1h-5zM883 286h3v1h-3zM889 286h3v1h-3zM97 287h2v1h-2zM101 287h3v1h-3zM107 287h3v1h-3zM113 287h2v1h-2zM270 287h3v1h-3zM276 287h1v1h-1zM280 287h1v1h-1zM285 287h1v1h-1zM289 287h2v1h-2zM294 287h2v1h-2zM300 287h2v1h-2zM305 287h2v1h-2zM310 287h3v1h-3zM315 287h3v1h-3zM321 287h3v1h-3zM326 287h3v1h-3zM332 287h3v1h-3zM340 287h3v1h-3zM345 287h11v1h-11zM357 287h4v1h-4zM440 287h12v1h-12zM453 287h2v1h-2zM456 287h2v1h-2zM460 287h1v1h-1zM464 287h1v1h-1zM467 287h1v1h-1zM471 287h2v1h-2zM474 287h3v1h-3zM558 287h5v1h-5zM564 287h6v1h-6zM574 287h6v1h-6zM585 287h3v1h-3zM636 287h5v1h-5zM643 287h1v1h-1zM645 287h1v1h-1zM649 287h1v1h-1zM651 287h2v1h-2zM656 287h2v1h-2zM659 287h6v1h-6zM666 287h3v1h-3zM671 287h6v1h-6zM710 287h4v1h-4zM885 287h3v1h-3zM891 287h3v1h-3zM98 288h3v1h-3zM103 288h3v1h-3zM109 288h3v1h-3zM114 288h3v1h-3zM271 288h3v1h-3zM276 288h1v1h-1zM280 288h1v1h-1zM284 288h2v1h-2zM288 288h2v1h-2zM293 288h2v1h-2zM299 288h2v1h-2zM303 288h3v1h-3zM309 288h2v1h-2zM313 288h3v1h-3zM319 288h3v1h-3zM324 288h3v1h-3zM330 288h3v1h-3zM338 288h3v1h-3zM342 288h5v1h-5zM348 288h6v1h-6zM355 288h3v1h-3zM443 288h13v1h-13zM457 288h1v1h-1zM460 288h1v1h-1zM464 288h1v1h-1zM467 288h1v1h-1zM471 288h1v1h-1zM473 288h2v1h-2zM562 288h6v1h-6zM569 288h6v1h-6zM579 288h6v1h-6zM638 288h3v1h-3zM643 288h3v1h-3zM648 288h2v1h-2zM651 288h1v1h-1zM655 288h2v1h-2zM658 288h2v1h-2zM661 288h2v1h-2zM664 288h3v1h-3zM669 288h6v1h-6zM706 288h5v1h-5zM887 288h3v1h-3zM893 288h3v1h-3zM97 289h2v1h-2zM100 289h3v1h-3zM105 289h3v1h-3zM111 289h2v1h-2zM116 289h2v1h-2zM271 289h3v1h-3zM276 289h1v1h-1zM280 289h1v1h-1zM284 289h1v1h-1zM288 289h1v1h-1zM292 289h2v1h-2zM297 289h3v1h-3zM302 289h2v1h-2zM307 289h3v1h-3zM311 289h3v1h-3zM317 289h3v1h-3zM322 289h3v1h-3zM327 289h4v1h-4zM336 289h3v1h-3zM340 289h11v1h-11zM352 289h4v1h-4zM446 289h13v1h-13zM460 289h1v1h-1zM464 289h1v1h-1zM466 289h2v1h-2zM470 289h4v1h-4zM567 289h6v1h-6zM574 289h5v1h-5zM584 289h3v1h-3zM640 289h1v1h-1zM644 289h2v1h-2zM648 289h1v1h-1zM650 289h2v1h-2zM654 289h2v1h-2zM657 289h8v1h-8zM667 289h5v1h-5zM702 289h5v1h-5zM889 289h3v1h-3zM895 289h1v1h-1zM98 290h3v1h-3zM102 290h3v1h-3zM107 290h3v1h-3zM112 290h3v1h-3zM117 290h3v1h-3zM272 290h3v1h-3zM276 290h1v1h-1zM280 290h1v1h-1zM284 290h1v1h-1zM287 290h2v1h-2zM291 290h2v1h-2zM296 290h2v1h-2zM301 290h2v1h-2zM306 290h2v1h-2zM310 290h2v1h-2zM316 290h2v1h-2zM320 290h3v1h-3zM325 290h3v1h-3zM333 290h4v1h-4zM338 290h11v1h-11zM350 290h3v1h-3zM449 290h13v1h-13zM464 290h1v1h-1zM466 290h1v1h-1zM469 290h4v1h-4zM572 290h5v1h-5zM578 290h6v1h-6zM644 290h2v1h-2zM647 290h4v1h-4zM653 290h2v1h-2zM656 290h7v1h-7zM664 290h6v1h-6zM698 290h5v1h-5zM891 290h3v1h-3zM97 291h2v1h-2zM100 291h3v1h-3zM104 291h3v1h-3zM109 291h2v1h-2zM114 291h3v1h-3zM119 291h2v1h-2zM273 291h4v1h-4zM279 291h2v1h-2zM283 291h2v1h-2zM286 291h2v1h-2zM290 291h2v1h-2zM295 291h2v1h-2zM299 291h3v1h-3zM304 291h3v1h-3zM308 291h3v1h-3zM314 291h7v1h-7zM323 291h3v1h-3zM331 291h3v1h-3zM335 291h16v1h-16zM452 291h8v1h-8zM461 291h1v1h-1zM464 291h3v1h-3zM469 291h3v1h-3zM576 291h6v1h-6zM583 291h3v1h-3zM645 291h1v1h-1zM647 291h3v1h-3zM652 291h9v1h-9zM662 291h5v1h-5zM695 291h4v1h-4zM893 291h3v1h-3zM98 292h3v1h-3zM102 292h7v1h-7zM110 292h3v1h-3zM116 292h2v1h-2zM120 292h3v1h-3zM274 292h4v1h-4zM279 292h1v1h-1zM283 292h1v1h-1zM285 292h2v1h-2zM289 292h2v1h-2zM294 292h2v1h-2zM298 292h2v1h-2zM303 292h2v1h-2zM306 292h3v1h-3zM312 292h6v1h-6zM321 292h3v1h-3zM329 292h3v1h-3zM333 292h15v1h-15zM455 292h7v1h-7zM464 292h2v1h-2zM468 292h3v1h-3zM581 292h3v1h-3zM645 292h4v1h-4zM651 292h8v1h-8zM660 292h5v1h-5zM691 292h5v1h-5zM895 292h1v1h-1zM100 293h4v1h-4zM105 293h6v1h-6zM112 293h3v1h-3zM117 293h3v1h-3zM122 293h2v1h-2zM274 293h4v1h-4zM279 293h1v1h-1zM282 293h2v1h-2zM285 293h1v1h-1zM289 293h1v1h-1zM293 293h2v1h-2zM297 293h2v1h-2zM301 293h6v1h-6zM310 293h6v1h-6zM318 293h4v1h-4zM327 293h18v1h-18zM457 293h5v1h-5zM464 293h2v1h-2zM467 293h3v1h-3zM646 293h3v1h-3zM650 293h7v1h-7zM658 293h5v1h-5zM687 293h5v1h-5zM103 294h3v1h-3zM107 294h6v1h-6zM114 294h3v1h-3zM119 294h3v1h-3zM123 294h2v1h-2zM275 294h3v1h-3zM279 294h1v1h-1zM282 294h1v1h-1zM284 294h2v1h-2zM288 294h2v1h-2zM292 294h2v1h-2zM295 294h3v1h-3zM300 294h2v1h-2zM303 294h2v1h-2zM308 294h6v1h-6zM316 294h3v1h-3zM324 294h19v1h-19zM459 294h4v1h-4zM464 294h2v1h-2zM467 294h2v1h-2zM646 294h2v1h-2zM649 294h6v1h-6zM656 294h4v1h-4zM684 294h4v1h-4zM105 295h10v1h-10zM116 295h3v1h-3zM121 295h6v1h-6zM275 295h3v1h-3zM279 295h1v1h-1zM281 295h4v1h-4zM287 295h2v1h-2zM291 295h2v1h-2zM294 295h2v1h-2zM298 295h6v1h-6zM306 295h6v1h-6zM314 295h3v1h-3zM322 295h18v1h-18zM461 295h4v1h-4zM466 295h2v1h-2zM648 295h5v1h-5zM654 295h4v1h-4zM680 295h5v1h-5zM108 296h9v1h-9zM118 296h3v1h-3zM123 296h2v1h-2zM126 296h2v1h-2zM276 296h2v1h-2zM279 296h1v1h-1zM281 296h1v1h-1zM283 296h1v1h-1zM286 296h2v1h-2zM289 296h3v1h-3zM293 296h2v1h-2zM297 296h5v1h-5zM304 296h6v1h-6zM312 296h3v1h-3zM320 296h18v1h-18zM462 296h3v1h-3zM466 296h1v1h-1zM648 296h3v1h-3zM652 296h3v1h-3zM676 296h5v1h-5zM110 297h13v1h-13zM124 297h6v1h-6zM281 297h3v1h-3zM285 297h2v1h-2zM288 297h2v1h-2zM291 297h3v1h-3zM295 297h5v1h-5zM302 297h6v1h-6zM309 297h4v1h-4zM318 297h17v1h-17zM651 297h2v1h-2zM673 297h4v1h-4zM113 298h12v1h-12zM126 298h5v1h-5zM282 298h1v1h-1zM284 298h2v1h-2zM287 298h2v1h-2zM290 298h2v1h-2zM294 298h4v1h-4zM300 298h5v1h-5zM307 298h3v1h-3zM315 298h11v1h-11zM327 298h6v1h-6zM669 298h5v1h-5zM115 299h11v1h-11zM128 299h5v1h-5zM284 299h1v1h-1zM286 299h2v1h-2zM289 299h2v1h-2zM292 299h5v1h-5zM298 299h5v1h-5zM305 299h3v1h-3zM313 299h17v1h-17zM665 299h5v1h-5zM118 300h10v1h-10zM129 300h5v1h-5zM286 300h4v1h-4zM291 300h4v1h-4zM296 300h5v1h-5zM302 300h4v1h-4zM311 300h10v1h-10zM322 300h6v1h-6zM664 300h2v1h-2zM121 301h9v1h-9zM131 301h4v1h-4zM287 301h1v1h-1zM289 301h4v1h-4zM294 301h5v1h-5zM300 301h3v1h-3zM309 301h16v1h-16zM123 302h9v1h-9zM133 302h4v1h-4zM289 302h2v1h-2zM292 302h5v1h-5zM298 302h3v1h-3zM308 302h8v1h-8zM317 302h6v1h-6zM126 303h12v1h-12zM292 303h3v1h-3zM296 303h3v1h-3zM311 303h3v1h-3zM315 303h5v1h-5zM128 304h12v1h-12zM295 304h2v1h-2zM314 304h4v1h-4zM131 305h9v1h-9zM133 306h5v1h-5z"/>
<g fill="#000">
<rect x="96" y="67" width="801" height="1"/><rect x="96" y="467" width="801" height="1"/>
<rect x="96" y="67" width="1" height="401"/><rect x="896" y="67" width="1" height="401"/>
<rect x="163" y="68" width="1" height="4"/>
<rect x="229" y="68" width="1" height="4"/>
<rect x="296" y="68" width="1" height="4"/>
<rect x="363" y="68" width="1" height="4"/>
<rect x="429" y="68" width="1" height="4"/>
<rect x="496" y="68" width="1" height="4"/>
<rect x="563" y="68" width="1" height="4"/>
<rect x="629" y="68" width="1" height="4"/>
<rect x="696" y="68" width="1" height="4"/>
<rect x="763" y="68" width="1" height="4"/>
<rect x="829" y="68" width="1" height="4"/>
<rect x="229" y="463" width="1" height="4"/>
<rect x="363" y="463" width="1" height="4"/>
<rect x="496" y="463" width="1" height="4"/>
<rect x="629" y="463" width="1" height="4"/>
<rect x="763" y="463" width="1" height="4"/>
<rect x="97" y="167" width="8" height="1"/><rect x="888" y="167" width="8" height="1"/>
<rect x="97" y="267" width="8" height="1"/><rect x="888" y="267" width="8" height="1"/>
<rect x="97" y="367" width="8" height="1"/><rect x="888" y="367" width="8" height="1"/>
</g>
<rect x="192" y="521" width="577" height="8" fill="#000"/>
<rect x="193" y="522" width="191" height="6" fill="#0000ff"/><rect x="384" y="522" width="192" height="6" fill="#d9d9d9"/><rect x="576" y="522" width="192" height="6" fill="#ff0000"/>
<rect x="480" y="569" width="6" height="7" fill="#ffa500"/><rect x="480" y="587" width="6" height="7" fill="#7fbfff"/>
<rect x="475" y="607" width="16" height="3" fill="#00ff00"/><rect x="475" y="625" width="16" height="3" fill="#bf7fff"/>
</g>
<text x="210.6" y="36.4" font-size="16.2" textLength="76.6" lengthAdjust="spacingAndGlyphs" stroke="#000" stroke-width="0.55">Simulated</text>
<text x="296.6" y="36.4" font-size="16.2" textLength="59.0" lengthAdjust="spacingAndGlyphs" stroke="#000" stroke-width="0.55">Coronal</text>
<text x="364.4" y="36.4" font-size="16.2" textLength="42.2" lengthAdjust="spacingAndGlyphs" stroke="#000" stroke-width="0.55">Holes</text>
<text x="415.3" y="36.4" font-size="16.2" textLength="28.8" lengthAdjust="spacingAndGlyphs" stroke="#000" stroke-width="0.55">with</text>
<text x="452.8" y="36.4" font-size="16.2" textLength="118.2" lengthAdjust="spacingAndGlyphs" stroke="#000" stroke-width="0.55">STEREO–Ahead</text>
<text x="581.4" y="36.4" font-size="16.2" textLength="58.9" lengthAdjust="spacingAndGlyphs" stroke="#000" stroke-width="0.55">Mapped</text>
<text x="649.0" y="36.4" font-size="16.2" textLength="37.0" lengthAdjust="spacingAndGlyphs" stroke="#000" stroke-width="0.55">Back</text>
<text x="695.7" y="36.4" font-size="16.2" textLength="14.6" lengthAdjust="spacingAndGlyphs" stroke="#000" stroke-width="0.55">to</text>
<text x="718.0" y="36.4" font-size="16.2" textLength="24.0" lengthAdjust="spacingAndGlyphs" stroke="#000" stroke-width="0.55">the</text>
<text x="750.7" y="36.4" font-size="16.2" textLength="28.6" lengthAdjust="spacingAndGlyphs" stroke="#000" stroke-width="0.55">Sun</text>
<text x="148.3" y="62.2" font-size="12.7" textLength="29.7" lengthAdjust="spacingAndGlyphs" >12/4</text>
<text x="277.9" y="62.2" font-size="12.7" textLength="36.7" lengthAdjust="spacingAndGlyphs" >11/29</text>
<text x="411.3" y="62.2" font-size="12.7" textLength="36.7" lengthAdjust="spacingAndGlyphs" >11/25</text>
<text x="543.9" y="62.2" font-size="12.7" textLength="36.7" lengthAdjust="spacingAndGlyphs" >11/20</text>
<text x="677.9" y="62.2" font-size="12.7" textLength="36.7" lengthAdjust="spacingAndGlyphs" >11/16</text>
<text x="811.4" y="62.2" font-size="12.7" textLength="36.7" lengthAdjust="spacingAndGlyphs" >11/12</text>
<text x="77.5" y="75.0" font-size="12.7" textLength="14.7" lengthAdjust="spacingAndGlyphs" >90</text>
<text x="78.0" y="172.0" font-size="12.7" textLength="14.2" lengthAdjust="spacingAndGlyphs" >45</text>
<text x="85.6" y="271.8" font-size="12.7" textLength="6.6" lengthAdjust="spacingAndGlyphs" >0</text>
<text x="68.7" y="371.8" font-size="12.7" textLength="23.5" lengthAdjust="spacingAndGlyphs" >−45</text>
<text x="68.7" y="468.3" font-size="12.7" textLength="23.5" lengthAdjust="spacingAndGlyphs" >−90</text>
<text x="92.7" y="484.2" font-size="12.7" textLength="6.3" lengthAdjust="spacingAndGlyphs" >0</text>
<text x="222.7" y="484.2" font-size="12.7" textLength="13.3" lengthAdjust="spacingAndGlyphs" >60</text>
<text x="352.7" y="484.2" font-size="12.7" textLength="20.6" lengthAdjust="spacingAndGlyphs" >120</text>
<text x="485.0" y="484.2" font-size="12.7" textLength="22.3" lengthAdjust="spacingAndGlyphs" >180</text>
<text x="619.0" y="484.2" font-size="12.7" textLength="21.0" lengthAdjust="spacingAndGlyphs" >240</text>
<text x="752.2" y="484.2" font-size="12.7" textLength="21.2" lengthAdjust="spacingAndGlyphs" >300</text>
<text x="884.8" y="484.2" font-size="12.7" textLength="22.1" lengthAdjust="spacingAndGlyphs" >360</text>
<text x="423.3" y="498.4" font-size="13.5" textLength="145.0" lengthAdjust="spacingAndGlyphs" >Carrington Longitude (°)</text>
<text x="217.3" y="545.7" font-size="13" textLength="141.7" lengthAdjust="spacingAndGlyphs" >Open field lines, Br (−)</text>
<text x="429.3" y="545.7" font-size="13" textLength="101.4" lengthAdjust="spacingAndGlyphs" >Closed field lines</text>
<text x="601.7" y="545.7" font-size="13" textLength="141.6" lengthAdjust="spacingAndGlyphs" >Open field lines, Br (+)</text>
<text x="96.7" y="576.3" font-size="11.6" textLength="135.6" lengthAdjust="spacingAndGlyphs" >Carrington rotation: 2304</text>
<text x="96.7" y="594.0" font-size="11.6" textLength="316.6" lengthAdjust="spacingAndGlyphs" >ID: hmi__high–cor–thermo1–exp01__high–hel–poly–exp01</text>
<text x="499.8" y="576.3" font-size="11.6" textLength="285.6" lengthAdjust="spacingAndGlyphs" >Mapped positions at 30Rs that map back to the Sun</text>
<text x="499.8" y="594.3" font-size="11.6" textLength="325.7" lengthAdjust="spacingAndGlyphs" >Mapped positions at 30Rs that do not map back to the Sun</text>
<text x="499.8" y="612.6" font-size="11.6" textLength="381.9" lengthAdjust="spacingAndGlyphs" >2D mapping from positions at 30Rs to the Sun using measured speed</text>
<text x="499.8" y="630.6" font-size="11.6" textLength="381.9" lengthAdjust="spacingAndGlyphs" >2D mapping from positions at 30Rs to the Sun using estimated speed</text>
<text x="96.9" y="666.3" font-size="10.3" textLength="438.4" lengthAdjust="spacingAndGlyphs" >* Approximate dates when plasma reaches the spacecraft are shown above the figure.</text>
<text x="96.9" y="684.4" font-size="10.3" textLength="570.6" lengthAdjust="spacingAndGlyphs" >* Mapping of plasma is incomplete because the simulation run result for the next Carr. rotation is not available.</text>
<text transform="translate(58.2,334.4) rotate(-90)" x="0" y="0" font-size="13" textLength="133.4" lengthAdjust="spacingAndGlyphs">Carrington Latitude (°)</text>
</svg></body></html>
